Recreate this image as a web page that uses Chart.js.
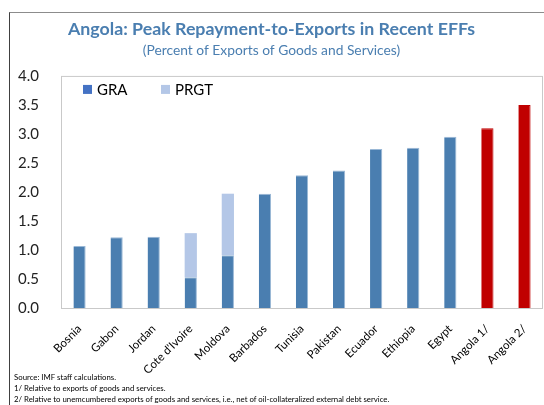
<!DOCTYPE html>
<html>
<head>
<meta charset="utf-8">
<script src="https://cdn.jsdelivr.net/npm/chart.js@4.4.1/dist/chart.umd.min.js"></script>
<style>
  body { margin: 0; background: #fff; }
  #wrap { position: relative; width: 544px; height: 405px; overflow: hidden; }
  #frame { position: absolute; left: 9px; top: 12px; right: 0; bottom: 0;
           border-top: 1px solid #8c8c8c; border-left: 1px solid #404040; }
  #myChart { position: absolute; left: 0; top: 0; }
  #notes { position: absolute; left: 14px; top: 372px; font-family: Lato, sans-serif;
           font-size: 7.8px; line-height: 11px; color: #000; }
</style>
</head>
<body>
<div id="wrap">
  <div id="frame"></div>
  <canvas id="myChart" width="544" height="405"></canvas>
  <div id="notes">
    <div>Source: IMF staff calculations.</div>
    <div>1/ Relative to exports of goods and services.</div>
    <div>2/ Relative to unemcumbered exports of goods and services, i.e., net of oil-collateralized external debt service.</div>
  </div>
</div>
<script>
    // Pico de pagamentos / exportações nos EFFs recentes

    const labels = [
        'Bosnia', 'Gabon', 'Jordan', "Cote d'Ivoire", 'Moldova', 'Barbados',
        'Tunisia', 'Pakistan', 'Ecuador', 'Ethiopia', 'Egypt', 'Angola 1/', 'Angola 2/'
    ];

    const gra = [1.07, 1.22, 1.23, 0.53, 0.91, 1.97, 2.29, 2.37, 2.74, 2.76, 2.95, 3.10, 3.50];
    const prgt = [null, null, null, 0.76, 1.06, null, null, null, null, null, null, null, null];

    const yTicks = [0, 0.5, 1, 1.5, 2, 2.5, 3, 3.5, 4];

    const blue = '#4A7EB0';
    const red = '#C00000';
    const font = 'Lato, "Open Sans", sans-serif';

    // quadro da área do gráfico + legenda dentro dela
    const areaBox = {
        id: 'areaBox',
        beforeDatasetsDraw(chart) {
            const a = chart.chartArea, ctx = chart.ctx;
            ctx.save();
            ctx.strokeStyle = '#c9c9c9';
            ctx.lineWidth = 1;
            ctx.strokeRect(a.left + 0.5, a.top + 0.5, a.right - a.left - 1, a.bottom - a.top);
            ctx.restore();
        },
        afterDraw(chart) {
            const a = chart.chartArea, ctx = chart.ctx;
            const items = [
                { text: chart.data.datasets[0].label, color: '#4472C4', dx: 22 },
                { text: chart.data.datasets[1].label, color: '#B4C7E7', dx: 100 }
            ];
            ctx.save();
            ctx.font = '15px ' + font;
            ctx.textBaseline = 'middle';
            items.forEach(it => {
                const x = a.left + it.dx, y = a.top + 9;
                ctx.fillStyle = it.color;
                ctx.fillRect(x, y, 9, 9);
                ctx.fillStyle = '#000';
                ctx.fillText(it.text, x + 14, y + 5);
            });
            ctx.restore();
        }
    };

    const data = {
        labels: labels,
        datasets: [{
            label: 'GRA',
            data: gra,
            backgroundColor: ctx => labels[ctx.dataIndex].startsWith('Angola') ? red : blue,
            borderColor: ctx => labels[ctx.dataIndex].startsWith('Angola') ? red : '#9ab8d6',
            borderWidth: { top: 1, right: 1 },
            borderSkipped: false
        }, {
            label: 'PRGT',
            data: prgt,
            backgroundColor: '#B4C7E7',
            borderWidth: 0
        }]
    };

    const config = {
        type: 'bar',
        data: data,
        plugins: [areaBox],
        options: {
            responsive: false,
            animation: false,
            layout: { padding: { left: 0, right: 1, top: 0, bottom: 0 } },
            datasets: {
                bar: { barPercentage: 0.33, categoryPercentage: 1 }
            },
            plugins: {
                legend: { display: false },
                tooltip: { enabled: false },
                title: {
                    display: true,
                    text: 'Angola: Peak Repayment-to-Exports in Recent EFFs',
                    color: blue,
                    font: { family: font, size: 17.8, weight: 'bold' },
                    padding: { top: 19, bottom: 2 }
                },
                subtitle: {
                    display: true,
                    text: '(Percent of Exports of Goods and Services)',
                    color: blue,
                    font: { family: font, size: 13.8 },
                    padding: { top: 0, bottom: 17 }
                }
            },
            scales: {
                x: {
                    stacked: true,
                    grid: { display: false },
                    border: { display: false },
                    ticks: {
                        minRotation: 45, maxRotation: 45,
                        color: '#000',
                        font: { family: font, size: 11.5 },
                        padding: 6
                    },
                    afterFit: s => { s.height = 97; }
                },
                y: {
                    stacked: true,
                    min: 0, max: 4,
                    grid: { display: false },
                    border: { display: false },
                    afterBuildTicks: s => { s.ticks = yTicks.map(v => ({ value: v })); },
                    ticks: {
                        color: '#222',
                        font: { family: font, size: 15 },
                        padding: 14,
                        callback: v => v.toFixed(1)
                    },
                    afterFit: s => { s.width = 61; }
                }
            }
        }
    };

    const myChart = new Chart(document.getElementById('myChart'), config);
</script>
</body>
</html>
